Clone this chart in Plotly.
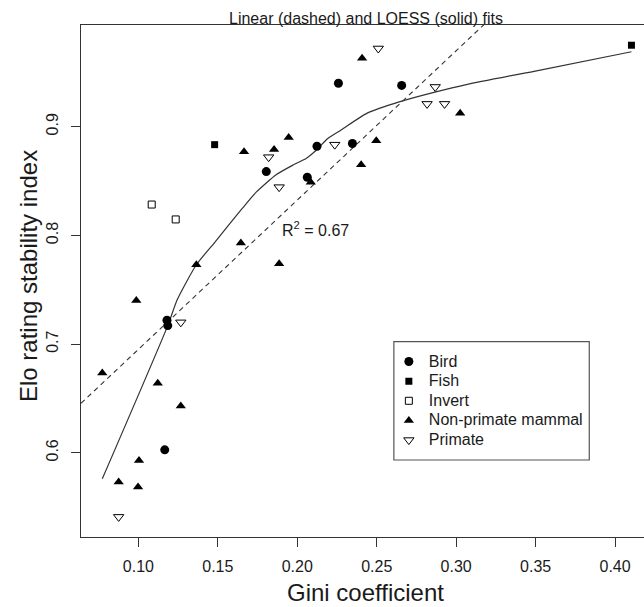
import plotly.graph_objects as go

# ---- data ----
bird_x = [0.1805, 0.2124, 0.2063, 0.2259, 0.2657, 0.2347, 0.1180, 0.1185, 0.1166]
bird_y = [0.8587, 0.8820, 0.8535, 0.9400, 0.9380, 0.8846, 0.7220, 0.7170, 0.6027]

fish_x = [0.1480, 0.4103]
fish_y = [0.8835, 0.9750]

invert_x = [0.1084, 0.1235]
invert_y = [0.8284, 0.8147]

mammal_x = [0.1665, 0.1854, 0.1946, 0.2085, 0.1645, 0.1886, 0.1365, 0.0987, 0.0773,
            0.1122, 0.1267, 0.1004, 0.0876, 0.0998, 0.2408, 0.3025, 0.2497, 0.2402]
mammal_y = [0.8770, 0.8790, 0.8900, 0.8490, 0.7930, 0.7740, 0.7730, 0.7400, 0.6734,
            0.6640, 0.6430, 0.5930, 0.5731, 0.5686, 0.9630, 0.9125, 0.8870, 0.8650]

primate_x = [0.1820, 0.1886, 0.2236, 0.1267, 0.0876, 0.2510, 0.2868, 0.2817, 0.2927]
primate_y = [0.8720, 0.8444, 0.8835, 0.7200, 0.5410, 0.9720, 0.9366, 0.9210, 0.9210]

loess_x = [0.0773, 0.1185, 0.1245, 0.1365, 0.1477, 0.1655, 0.1743, 0.1869, 0.1974,
           0.2058, 0.2124, 0.2190, 0.2276, 0.2440, 0.2652, 0.2860, 0.3070, 0.3490, 0.4103]
loess_y = [0.5760, 0.7170, 0.7410, 0.7730, 0.7930, 0.8250, 0.8400, 0.8560, 0.8648,
           0.8710, 0.8790, 0.8890, 0.8970, 0.9125, 0.9233, 0.9316, 0.9390, 0.9510, 0.9690]

lin_intercept = 0.5577
lin_slope = 1.374

x_ticks = [0.10, 0.15, 0.20, 0.25, 0.30, 0.35, 0.40]
y_ticks = [0.6, 0.7, 0.8, 0.9]

x_range = [0.0639, 0.4182]
y_range = [0.5225, 0.9936]

FONT = "Liberation Sans, Arial, Helvetica, sans-serif"
INK = "#1a1a1a"
LINE = "#333333"


def lab(s):
    # legend text rendered at 16px while the legend row height follows legend.font.size
    return '<span style="font-size:16px">' + s + '</span>'


fig = go.Figure()

# linear fit (dashed), clipped to the plot area
lin_x = [x_range[0], x_range[1]]
lin_y = [lin_intercept + lin_slope * v for v in lin_x]
fig.add_trace(go.Scatter(x=lin_x, y=lin_y, mode="lines", showlegend=False,
                         line=dict(color=LINE, width=1.1, dash="5px,4px"), hoverinfo="skip"))
# LOESS fit (solid)
fig.add_trace(go.Scatter(x=loess_x, y=loess_y, mode="lines", showlegend=False,
                         line=dict(color=LINE, width=1.2, shape="spline", smoothing=0.6),
                         hoverinfo="skip"))

fig.add_trace(go.Scatter(x=bird_x, y=bird_y, mode="markers", name=lab("Bird"),
                         marker=dict(symbol="circle", size=9, color="black")))
fig.add_trace(go.Scatter(x=fish_x, y=fish_y, mode="markers", name=lab("Fish"),
                         marker=dict(symbol="square", size=7, color="black")))
fig.add_trace(go.Scatter(x=invert_x, y=invert_y, mode="markers", name=lab("Invert"),
                         marker=dict(symbol="square-open", size=7, color="black",
                                     line=dict(width=1))))
fig.add_trace(go.Scatter(x=mammal_x, y=mammal_y, mode="markers", name=lab("Non-primate mammal"),
                         marker=dict(symbol="triangle-up", size=9, color="black")))
fig.add_trace(go.Scatter(x=primate_x, y=primate_y, mode="markers", name=lab("Primate"),
                         marker=dict(symbol="triangle-down-open", size=9, color="black",
                                     line=dict(width=1))))

axis_common = dict(showgrid=False, zeroline=False, showline=True, linecolor=LINE,
                   linewidth=1.2, ticks="outside", ticklen=9, tickwidth=1.2, automargin=False,
                   tickcolor=LINE, tickfont=dict(family=FONT, size=16, color=INK))

fig.update_xaxes(range=x_range, tickvals=x_ticks, tickformat=".2f", mirror=True,
                 ticklabelstandoff=6, **axis_common)
fig.update_yaxes(range=y_range, tickvals=y_ticks, tickformat=".1f", mirror=False,
                 tickangle=-90, ticklabelstandoff=7, **axis_common)

fig.add_annotation(text="Linear (dashed) and LOESS (solid) fits", xref="paper", yref="paper",
                   x=0.506, y=1.0, yanchor="bottom", xanchor="center", yshift=-4,
                   showarrow=False, font=dict(family=FONT, size=16, color=INK))
fig.add_annotation(text="Gini coefficient", xref="paper", yref="paper",
                   x=0.506, y=0, yanchor="middle", xanchor="center", yshift=-55,
                   showarrow=False, font=dict(family=FONT, size=24, color=INK))
fig.add_annotation(text="Elo rating stability index", xref="paper", yref="paper",
                   x=0, y=0.5, xanchor="center", yanchor="middle", xshift=-53, yshift=5,
                   textangle=-90, showarrow=False, font=dict(family=FONT, size=24, color=INK))
fig.add_annotation(text="R<sup>2</sup> = 0.67", xref="x", yref="y", x=0.189, y=0.806,
                   xanchor="left", yanchor="middle", showarrow=False,
                   font=dict(family=FONT, size=16, color=INK))

# legend frame
fig.add_shape(type="rect", xref="paper", yref="paper", x0=0.5557, x1=0.9028,
              y0=0.1504, y1=0.3814, line=dict(color="#555555", width=1.2),
              fillcolor="white", layer="below")

fig.update_layout(
    width=644, height=607,
    margin=dict(l=81, r=0, t=25, b=70),
    paper_bgcolor="white", plot_bgcolor="white",
    font=dict(family=FONT, size=16, color=INK),
    legend=dict(x=0.5468, y=0.3717, xanchor="left", yanchor="top",
                borderwidth=0, bgcolor="rgba(0,0,0,0)",
                font=dict(family=FONT, size=12.8, color=INK),
                itemwidth=30, tracegroupgap=0),
)

fig.write_html("out.html", config={"displayModeBar": False},
               post_script="document.body.style.margin='0';")
